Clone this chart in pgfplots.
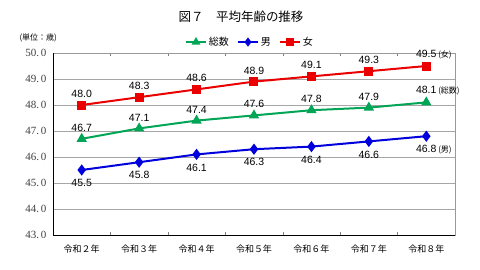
\documentclass[border=0pt]{standalone}
\usepackage{fontspec}
\usepackage{pgfplots}
\pgfplotsset{compat=1.18}
\setmainfont{Liberation Serif}
\newfontfamily\jp{Noto Sans CJK JP}
\newfontfamily\lsans{Liberation Sans}
\definecolor{cgreen}{RGB}{0,165,85}
\definecolor{cblue}{RGB}{0,0,220}
\definecolor{cred}{RGB}{235,0,0}
\begin{document}
\begin{tikzpicture}[x=1pt,y=1pt]
\path[use as bounding box] (0,0) rectangle (480,269);
\node[font=\jp\fontsize{12.5}{12.5}\selectfont] at (241,252) {図７　平均年齢の推移};
\node[font=\jp\fontsize{8}{8}\selectfont,anchor=west] at (16,231) {(単位：歳)};
\begin{axis}[
  at={(53pt,34pt)}, anchor=south west,
  scale only axis, width=402pt, height=182pt,
  xmin=-0.5, xmax=6.5, ymin=43, ymax=50,
  xtick={0,...,6},
  xticklabels={令和２年,令和３年,令和４年,令和５年,令和６年,令和７年,令和８年},
  xticklabel style={font=\jp\fontsize{9}{9}\selectfont, yshift=-6pt},
  minor xtick={0.5,1.5,...,5.5},
  major tick length=0pt,
  minor tick length=3pt,
  minor tick style={gray},
  tick align=inside,
  ytick={43,...,50},
  yticklabels={43.\,0,44.\,0,45.\,0,46.\,0,47.\,0,48.\,0,49.\,0,50.\,0},
  yticklabel style={font=\fontsize{11}{11}\selectfont, text=black!75, xshift=-3pt},
  ymajorgrids, grid style={gray!70, line width=0.8pt},
  axis line style={gray!80, line width=0.8pt},
  legend style={at={(0.49,1.01)}, anchor=south, draw=none, fill=none, legend columns=3,
    font=\jp\fontsize{10}{10}\selectfont, /tikz/every even column/.append style={column sep=6pt}},
  legend image code/.code={\draw[#1] (0pt,0pt) -- (20pt,0pt); \draw[#1,mark size=3pt,mark repeat=2,mark phase=2] plot coordinates {(0pt,0pt) (10pt,0pt) (20pt,0pt)};},
  nodes near coords,
  point meta=explicit symbolic,
  every node near coord/.append style={font=\lsans\fontsize{10.5}{10.5}\selectfont, text=black},
  clip=false,
]
\addplot[cgreen, line width=2pt, mark=triangle*, mark size=4pt, mark options={solid},
  every node near coord/.append style={anchor=south, yshift=3pt}]
  coordinates {(0,46.7)[46.7] (1,47.1)[47.1] (2,47.4)[47.4] (3,47.6)[47.6] (4,47.8)[47.8] (5,47.9)[47.9] (6,48.1)[48.1\rlap{\,\jp\fontsize{8}{8}\selectfont(総数)}]};
\addlegendentry{総数}
\addplot[cblue, line width=2pt, mark=diamond*, mark size=4pt, mark options={solid},
  every node near coord/.append style={anchor=north, yshift=-5pt}]
  coordinates {(0,45.5)[45.5] (1,45.8)[45.8] (2,46.1)[46.1] (3,46.3)[46.3] (4,46.4)[46.4] (5,46.6)[46.6] (6,46.8)[46.8\rlap{\,\jp\fontsize{8}{8}\selectfont(男)}]};
\addlegendentry{男}
\addplot[cred, line width=2pt, mark=square*, mark size=3.5pt, mark options={solid},
  every node near coord/.append style={anchor=south, yshift=3pt}]
  coordinates {(0,48.0)[48.0] (1,48.3)[48.3] (2,48.6)[48.6] (3,48.9)[48.9] (4,49.1)[49.1] (5,49.3)[49.3] (6,49.5)[49.5\rlap{\,\jp\fontsize{8}{8}\selectfont(女)}]};
\addlegendentry{女}
\draw[black, line width=1pt] (rel axis cs:0,1) -- (rel axis cs:0,0) -- (rel axis cs:1,0);
\end{axis}
\end{tikzpicture}
\end{document}
